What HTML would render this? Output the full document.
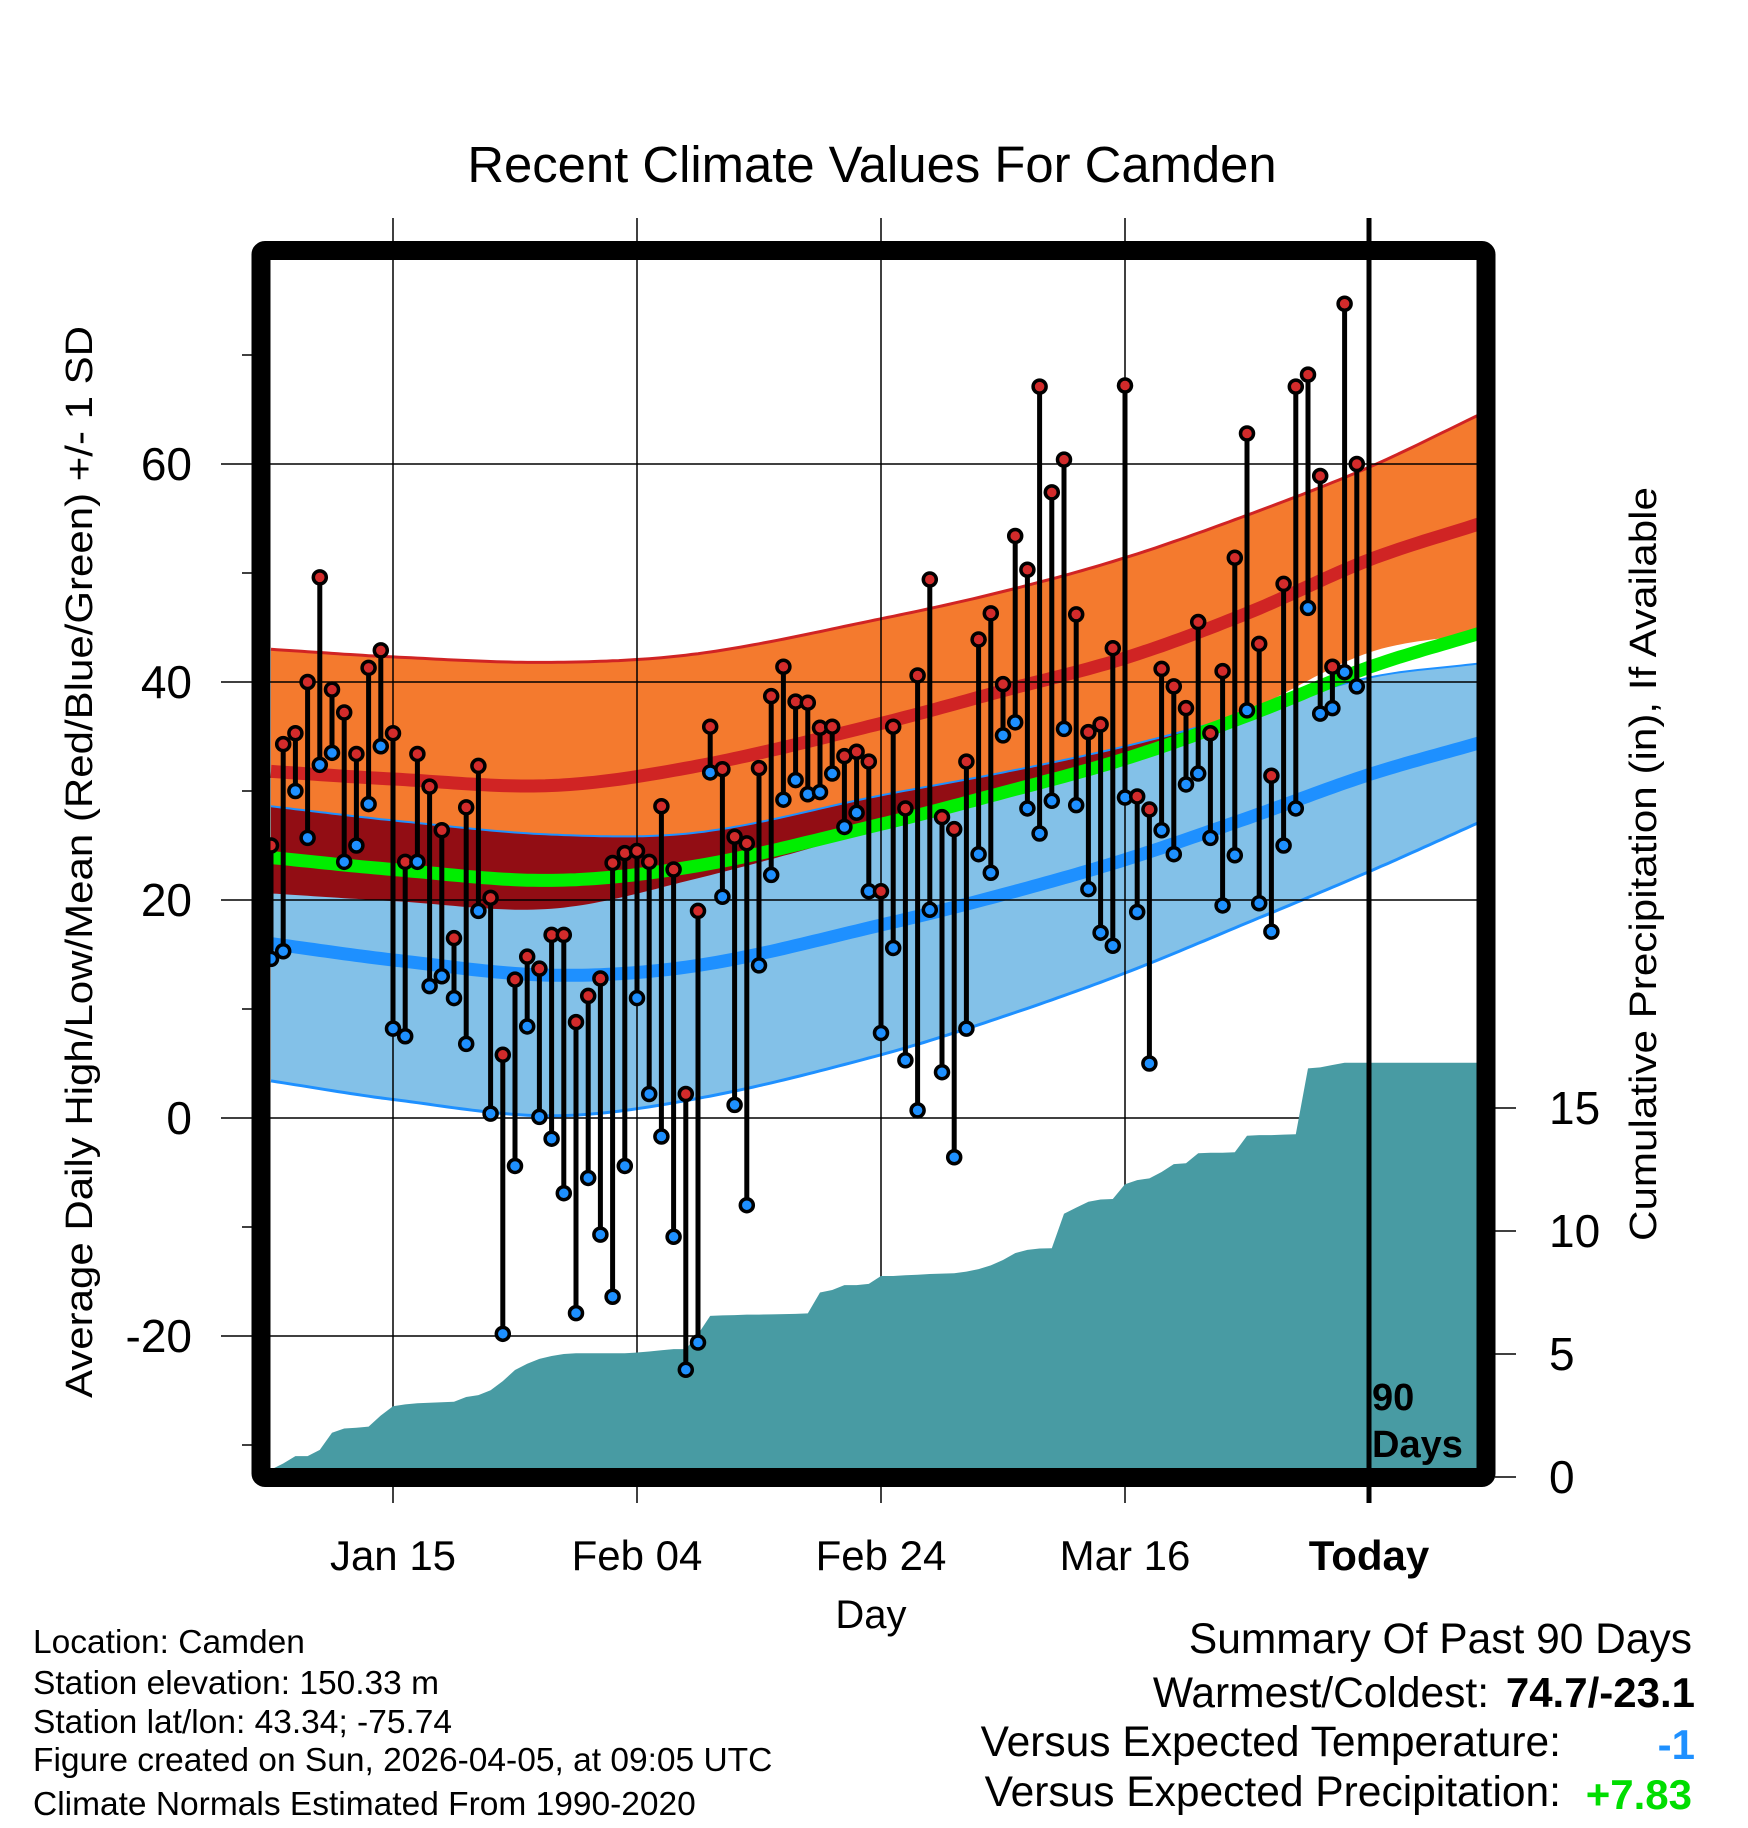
<!DOCTYPE html>
<html><head><meta charset="utf-8"><style>
html,body{margin:0;padding:0;background:#fff;}
svg{display:block;font-family:"Liberation Sans",sans-serif;}
</style></head><body>
<svg id="chart" xmlns="http://www.w3.org/2000/svg" width="1748" height="1828" viewBox="0 0 1748 1828">
<defs><clipPath id="plotclip"><rect x="270" y="260" width="1207" height="1208"/></clipPath></defs>
<text x="872" y="182" font-size="50.8" text-anchor="middle">Recent Climate Values For Camden</text>
<g id="bands" clip-path="url(#plotclip)"></g>
<g id="grid"></g>
<g id="precip" clip-path="url(#plotclip)"></g>
<g id="temps"></g>
<g id="axes"></g>
<rect x="261" y="250.5" width="1225" height="1227" fill="none" stroke="#000" stroke-width="19" rx="4"/>
<text x="1372" y="1410" font-size="38" font-weight="bold">90</text>
<text x="1372" y="1457" font-size="38" font-weight="bold">Days</text>
<text transform="translate(92,862) rotate(-90)" font-size="38" text-anchor="middle" textLength="1072" lengthAdjust="spacingAndGlyphs">Average Daily High/Low/Mean (Red/Blue/Green) +/- 1 SD</text>
<text transform="translate(1656,864) rotate(-90)" font-size="38" text-anchor="middle" textLength="754" lengthAdjust="spacingAndGlyphs">Cumulative Precipitation (in), If Available</text>
<text x="871" y="1628" font-size="40" text-anchor="middle">Day</text>
<g font-size="33.5">
<text x="33" y="1653">Location: Camden</text>
<text x="33" y="1694">Station elevation: 150.33 m</text>
<text x="33" y="1733">Station lat/lon: 43.34; -75.74</text>
<text x="33" y="1771">Figure created on Sun, 2026-04-05, at 09:05 UTC</text>
<text x="33" y="1815">Climate Normals Estimated From 1990-2020</text>
</g>
<g font-size="42.5">
<text x="1692" y="1653" text-anchor="end">Summary Of Past 90 Days</text>
<text x="1489" y="1707" text-anchor="end">Warmest/Coldest:</text>
<text x="1695" y="1707" text-anchor="end" font-weight="bold" font-size="42">74.7/-23.1</text>
<text x="1561" y="1756" text-anchor="end">Versus Expected Temperature:</text>
<text x="1695" y="1759" text-anchor="end" font-weight="bold" font-size="42" fill="#1E90FF">-1</text>
<text x="1561" y="1806" text-anchor="end">Versus Expected Precipitation:</text>
<text x="1692" y="1809" text-anchor="end" font-weight="bold" font-size="42" fill="#00DD00">+7.83</text>
</g>
</svg>
<script>
const knotDays=[-10,0,13,25,40,50,60,70,80,89];
const highTop=[43.0,42.3,41.8,42.6,45.8,48.3,51.4,55.3,59.7,64.5];
const highMean=[31.8,31.1,30.5,32.3,36.2,39.2,42.2,46.3,51.2,54.5];
const lowMean=[16.0,14.5,13.1,14.0,17.7,20.5,23.7,27.5,31.5,34.4];
const lowSD=[12.6,12.8,12.9,12.2,11.9,11.2,10.4,9.6,8.9,7.3];
const highs=[25,34.3,35.3,40,49.6,39.3,37.2,33.4,41.3,42.9,35.3,23.5,33.4,30.4,26.4,16.5,28.5,32.3,20.2,5.8,12.7,14.8,13.7,16.8,16.8,8.8,11.2,12.8,23.4,24.3,24.5,23.5,28.6,22.8,2.2,19,35.9,32,25.8,25.2,32.1,38.7,41.4,38.2,38.1,35.8,35.9,33.2,33.6,32.7,20.8,35.9,28.4,40.6,49.4,27.6,26.5,32.7,43.9,46.3,39.8,53.4,50.3,67.1,57.4,60.4,46.2,35.4,36.1,43.1,67.2,29.5,28.3,41.2,39.6,37.6,45.5,35.3,41,51.4,62.8,43.5,31.4,49,67.1,68.2,58.9,41.4,74.7,60];
const lows=[14.6,15.3,30,25.7,32.4,33.5,23.5,25,28.8,34.1,8.2,7.5,23.5,12.1,13,11,6.8,19,0.4,-19.8,-4.4,8.4,0.1,-1.9,-6.9,-17.9,-5.5,-10.7,-16.4,-4.4,11,2.2,-1.7,-10.9,-23.1,-20.6,31.7,20.3,1.2,-8,14,22.3,29.2,31,29.7,29.9,31.6,26.7,28,20.8,7.8,15.6,5.3,0.7,19.1,4.2,-3.6,8.2,24.2,22.5,35.1,36.3,28.4,26.1,29.1,35.7,28.7,21,17,15.8,29.4,18.9,5,26.4,24.2,30.6,31.6,25.7,19.5,24.1,37.4,19.7,17.1,25,28.4,46.8,37.1,37.6,40.9,39.6];
const precip=[0.3,0.55,0.85,0.85,1.1,1.8,1.97,2.0,2.05,2.5,2.88,2.95,3.0,3.02,3.04,3.06,3.25,3.33,3.53,3.9,4.35,4.6,4.8,4.92,5.0,5.03,5.03,5.03,5.03,5.03,5.06,5.1,5.15,5.2,5.2,5.8,6.55,6.57,6.58,6.6,6.6,6.61,6.62,6.63,6.65,7.5,7.6,7.8,7.8,7.85,8.17,8.17,8.2,8.22,8.25,8.27,8.28,8.35,8.45,8.6,8.82,9.1,9.23,9.29,9.3,10.7,10.95,11.19,11.28,11.3,11.9,12.07,12.14,12.4,12.72,12.75,13.16,13.18,13.18,13.2,13.87,13.9,13.9,13.92,13.93,16.61,16.65,16.75,16.84,16.84];
const yTickLabels=["60","40","20","0","-20"];
const yTickValues=[60,40,20,0,-20];
const yMinorValues=[70,50,30,10,-10,-30];
const xTickDays=[0,20,40,60,80];
const xTickLabels=["Jan 15","Feb 04","Feb 24","Mar 16","Today"];
const pTickValues=[0,5,10,15];
const pTickLabels=["0","5","10","15"];
const firstDay=-10, lastDay=89;

const NS="http://www.w3.org/2000/svg";
function xs(d){return 393+12.2*d;}
function ys(v){return 682-(v-40)*10.9;}
function yp(p){return 1477-24.6*p;}
function mk(tag,attrs,parent){const e=document.createElementNS(NS,tag);for(const k in attrs)e.setAttribute(k,attrs[k]);parent.appendChild(e);return e;}
function interp(arr,t){
  const n=knotDays.length;
  let i=0;while(i<n-2&&t>knotDays[i+1])i++;
  const d0=knotDays[i],d1=knotDays[i+1],h=d1-d0,s=(t-d0)/h;
  const tan=j=>{if(j===0)return (arr[1]-arr[0])/(knotDays[1]-knotDays[0]);if(j===n-1)return (arr[n-1]-arr[n-2])/(knotDays[n-1]-knotDays[n-2]);return (arr[j+1]-arr[j-1])/(knotDays[j+1]-knotDays[j-1]);};
  const m0=tan(i)*h,m1=tan(i+1)*h;
  const h00=2*s*s*s-3*s*s+1,h10=s*s*s-2*s*s+s,h01=-2*s*s*s+3*s*s,h11=s*s*s-s*s;
  return h00*arr[i]+h10*m0+h01*arr[i+1]+h11*m1;
}
const ts=[];for(let t=firstDay;t<=lastDay+0.001;t+=0.5)ts.push(t);
const hT=ts.map(t=>interp(highTop,t)), hM=ts.map(t=>interp(highMean,t));
const hB=ts.map((t,i)=>2*hM[i]-hT[i]);
const lM=ts.map(t=>interp(lowMean,t)), lS=ts.map(t=>interp(lowSD,t));
const lT=lM.map((m,i)=>m+lS[i]), lB=lM.map((m,i)=>m-lS[i]);
function line(vals){return ts.map((t,i)=>(i?"L":"M")+xs(t).toFixed(1)+","+ys(vals[i]).toFixed(1)).join("");}
function band(top,bot){let d=line(top);for(let i=ts.length-1;i>=0;i--)d+="L"+xs(ts[i]).toFixed(1)+","+ys(bot[i]).toFixed(1);return d+"Z";}

const bands=document.getElementById("bands");
mk("clipPath",{id:"orangeclip"},bands).appendChild(document.createElementNS(NS,"path")).setAttribute("d",band(hT,hB));
let e;
e=mk("path",{d:band(hT,hB),fill:"#F47A2E"},bands);


e=mk("path",{d:band(lT,lB),fill:"#83C1E8"},bands);


e=mk("path",{d:band(lT,lB),fill:"#920D14","clip-path":"url(#orangeclip)"},bands);


e=mk("path",{d:line(hT),fill:"none",stroke:"#D02424","stroke-width":3},bands);


e=mk("path",{d:line(lT),fill:"none",stroke:"#1E90FF","stroke-width":2},bands);


e=mk("path",{d:line(lB),fill:"none",stroke:"#1E90FF","stroke-width":3},bands);


e=mk("path",{d:line(hM),fill:"none",stroke:"#D02424","stroke-width":13},bands);


e=mk("path",{d:line(lM),fill:"none",stroke:"#1E90FF","stroke-width":13},bands);


e=mk("path",{d:line(hM.map((h,i)=>(h+lM[i])/2)),fill:"none",stroke:"#00EE00","stroke-width":13},bands);



const grid=document.getElementById("grid");
yTickValues.forEach(v=>{
  e=mk("line",{x1:221,x2:1477,y1:ys(v),y2:ys(v),stroke:"#000","stroke-width":1.5},grid);
  
  
});
xTickDays.forEach(d=>{
  e=mk("line",{x1:xs(d),x2:xs(d),y1:218,y2:1503,stroke:"#000","stroke-width":1.5},grid);
  
  
});

const pg=document.getElementById("precip");
let pd="M"+xs(firstDay)+","+yp(0);
precip.forEach((p,i)=>{pd+="L"+xs(firstDay+i).toFixed(1)+","+yp(p).toFixed(1);});
pd+="L"+xs(lastDay+1)+","+yp(precip[precip.length-1]).toFixed(1)+"L"+xs(lastDay+1)+","+yp(0)+"Z";
e=mk("path",{d:pd,fill:"#489BA3"},pg);



const tg=document.getElementById("temps");
highs.forEach((h,i)=>{
  const x=xs(firstDay+i);
  e=mk("line",{x1:x,x2:x,y1:ys(h),y2:ys(lows[i]),stroke:"#000","stroke-width":5},tg);
  
  
});
highs.forEach((h,i)=>{
  const x=xs(firstDay+i);
  e=mk("circle",{cx:x,cy:ys(lows[i]),r:6.5,fill:"#1E90FF",stroke:"#000","stroke-width":3.5},tg);
  
  
  e=mk("circle",{cx:x,cy:ys(h),r:6.5,fill:"#D22B2B",stroke:"#000","stroke-width":3.5},tg);
  
  
});
e=mk("line",{x1:xs(80),x2:xs(80),y1:218,y2:1503,stroke:"#000","stroke-width":5},tg);



const ax=document.getElementById("axes");
yTickValues.forEach((v,i)=>{
  e=mk("text",{x:192,y:ys(v)+16,"font-size":46,"text-anchor":"end"},ax);
  e.textContent=yTickLabels[i];
  
  
});
yMinorValues.forEach(v=>{
  e=mk("line",{x1:242,x2:252,y1:ys(v),y2:ys(v),stroke:"#000","stroke-width":1.5},ax);
  
  
});
xTickDays.forEach((d,i)=>{
  e=mk("text",{x:xs(d),y:1570,"font-size":42,"text-anchor":"middle"},ax);
  if(i===xTickLabels.length-1)e.setAttribute("font-weight","bold");
  e.textContent=xTickLabels[i];
  
  
});
pTickValues.forEach((p,i)=>{
  e=mk("line",{x1:1495,x2:1516,y1:yp(p),y2:yp(p),stroke:"#000","stroke-width":1.5},ax);
  
  
  e=mk("text",{x:1549,y:yp(p)+16,"font-size":46},ax);
  e.textContent=pTickLabels[i];
  
  
});
</script>
</body></html>
